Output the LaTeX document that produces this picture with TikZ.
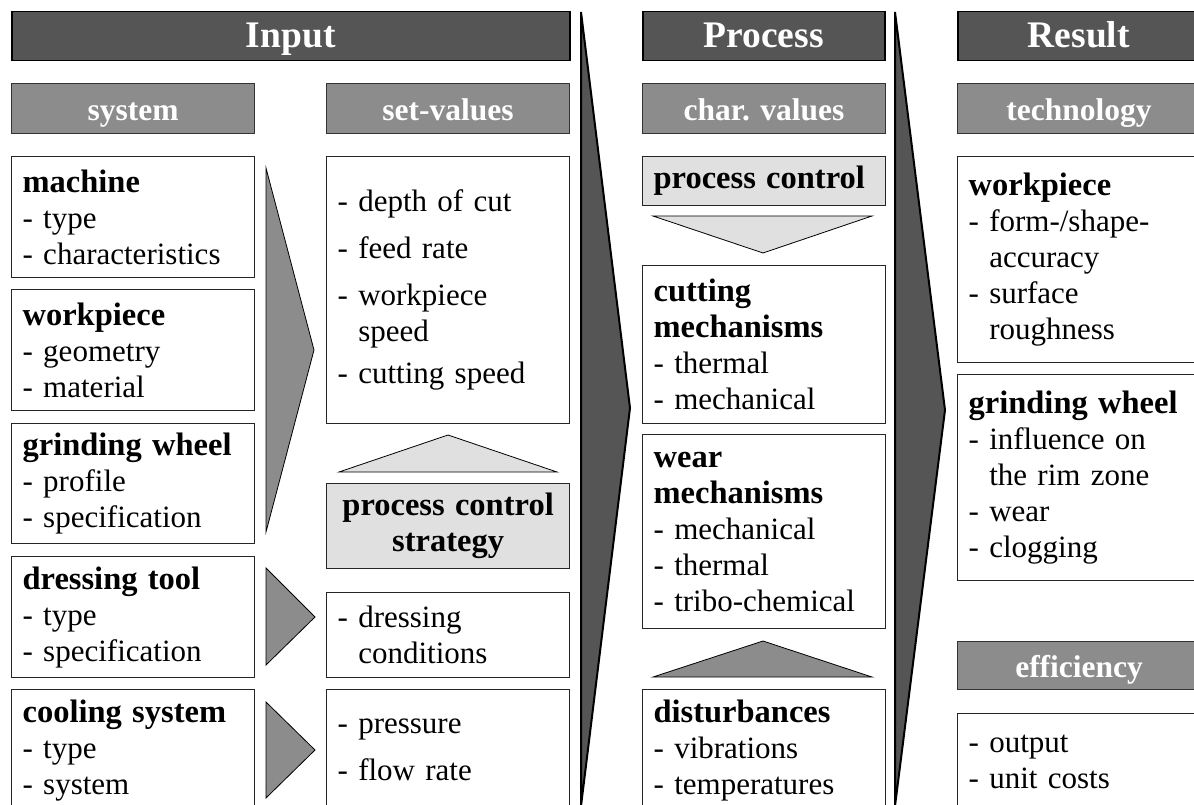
\documentclass[tikz,border=0pt]{standalone}
\usepackage{fontspec}
\setmainfont{Liberation Serif}
\definecolor{cdark}{RGB}{85,85,85}
\definecolor{cmid}{RGB}{140,140,140}
\definecolor{clight}{RGB}{224,224,224}
\newlength\myindlen
\newcommand\myind{\settowidth{\myindlen}{- }\hspace*{\myindlen}}
\newcommand\ttl[1]{{\bfseries\fontsize{32.5}{36}\selectfont #1}}
\begin{document}
\begin{tikzpicture}[x=1pt,y=-1pt,
  hdr/.style={draw=black, line width=1.5pt, fill=cdark, text=white,
    font=\bfseries\fontsize{37.5}{40}\selectfont, minimum height=49,
    text height=28pt, text depth=5pt,
    inner sep=0pt, anchor=north west},
  sub/.style={draw=black!80, line width=1.2pt, fill=cmid, text=white,
    font=\bfseries\fontsize{31.5}{36}\selectfont, minimum width=243,
    text height=25pt, text depth=1pt,
    minimum height=50, inner sep=0pt, anchor=north west},
  txtbox/.style={draw=black!85, line width=1.2pt, fill=white,
    font=\fontsize{31}{36}\selectfont, text width=221, inner xsep=11pt,
    inner ysep=0pt, align=left, anchor=north west},
  litebox/.style={txtbox, fill=clight},
  midtri/.style={draw=black, line width=0.8pt, fill=cmid},
  litetri/.style={draw=black, line width=0.8pt, fill=clight},
  bigarrow/.style={draw=black, line width=2pt, fill=cdark}]
\path[use as bounding box] (0,0) rectangle (1194,805);

% big arrows
\path[bigarrow] (581,12) -- (630,408) -- (581,806) -- cycle;
\path[bigarrow] (895,12) -- (945,410) -- (895,806) -- cycle;

% headers
\node[hdr, minimum width=558] (input) at (11,11) {Input};
\node[hdr, minimum width=242] (process) at (642,11) {Process};
\node[hdr, minimum width=242] (result) at (957,11) {Result};

\node[sub] (system) at (11,83) {system};
\node[sub] (setval) at (326,83) {set-values};
\node[sub] (charval) at (642,83) {char. values};
\node[sub] (techn) at (957,83) {technology};
\node[sub, minimum height=48] (effic) at (957,641) {efficiency};

% column 1: system
\node[txtbox, minimum height=121] (machine) at (11,156) {\ttl{machine}\\- type\\- characteristics};
\node[txtbox, minimum height=121] (wpiece) at (11,289) {\ttl{workpiece}\\- geometry\\- material};
\node[txtbox, minimum height=120] (gwheel) at (11,423) {\ttl{grinding wheel}\\- profile\\- specification};
\node[txtbox, minimum height=121] (dtool) at (11,556) {\ttl{dressing tool}\\- type\\- specification};
\node[txtbox, minimum height=121] (csys) at (11,689) {\ttl{cooling system}\\- type\\- system};

% column 1 arrows
\path[midtri] (266,168) -- (314,350) -- (266,532) -- cycle;
\path[midtri] (266,568) -- (315,617) -- (266,665) -- cycle;
\path[midtri] (266,702) -- (315,750) -- (266,798) -- cycle;

% column 2: set-values
\node[txtbox, minimum height=267] (setv) at (326,156) {- depth of cut\\[11pt]- feed rate\\[11pt]- workpiece\\\myind speed\\[6pt]- cutting speed};
\path[litetri] (339,472) -- (448,435) -- (557,472) -- cycle;
\node[litebox, align=center, minimum height=85] (pcs) at (326,483) {\ttl{process control}\\\ttl{strategy}};
\node[txtbox, minimum height=85] (dcond) at (326,592) {- dressing\\\myind conditions};
\node[txtbox, minimum height=121] (pflow) at (326,689) {- pressure\\[11pt]- flow rate};

% process column
\node[litebox, minimum height=49] (pctrl) at (642,156) {\ttl{process control}};
\path[litetri] (653,216) -- (872,216) -- (763,253) -- cycle;
\node[txtbox, minimum height=158] (cmech) at (642,265) {\ttl{cutting}\\\ttl{mechanisms}\\- thermal\\- mechanical};
\node[txtbox, minimum height=194] (wmech) at (642,434) {\ttl{wear}\\\ttl{mechanisms}\\- mechanical\\- thermal\\- tribo-chemical};
\path[midtri] (653,677) -- (763,641) -- (872,677) -- cycle;
\node[txtbox, minimum height=121] (dist) at (642,689) {\ttl{disturbances}\\- vibrations\\- temperatures};

% result column
\node[txtbox, minimum height=206] (rwp) at (957,156) {\ttl{workpiece}\\- form-/shape-\\\myind accuracy\\- surface\\\myind roughness};
\node[txtbox, minimum height=206] (rgw) at (957,374) {\ttl{grinding wheel}\\- influence on\\\myind the rim zone\\- wear\\- clogging};
\node[txtbox, minimum height=96] (outp) at (957,713) {- output\\- unit costs};
\end{tikzpicture}
\end{document}
